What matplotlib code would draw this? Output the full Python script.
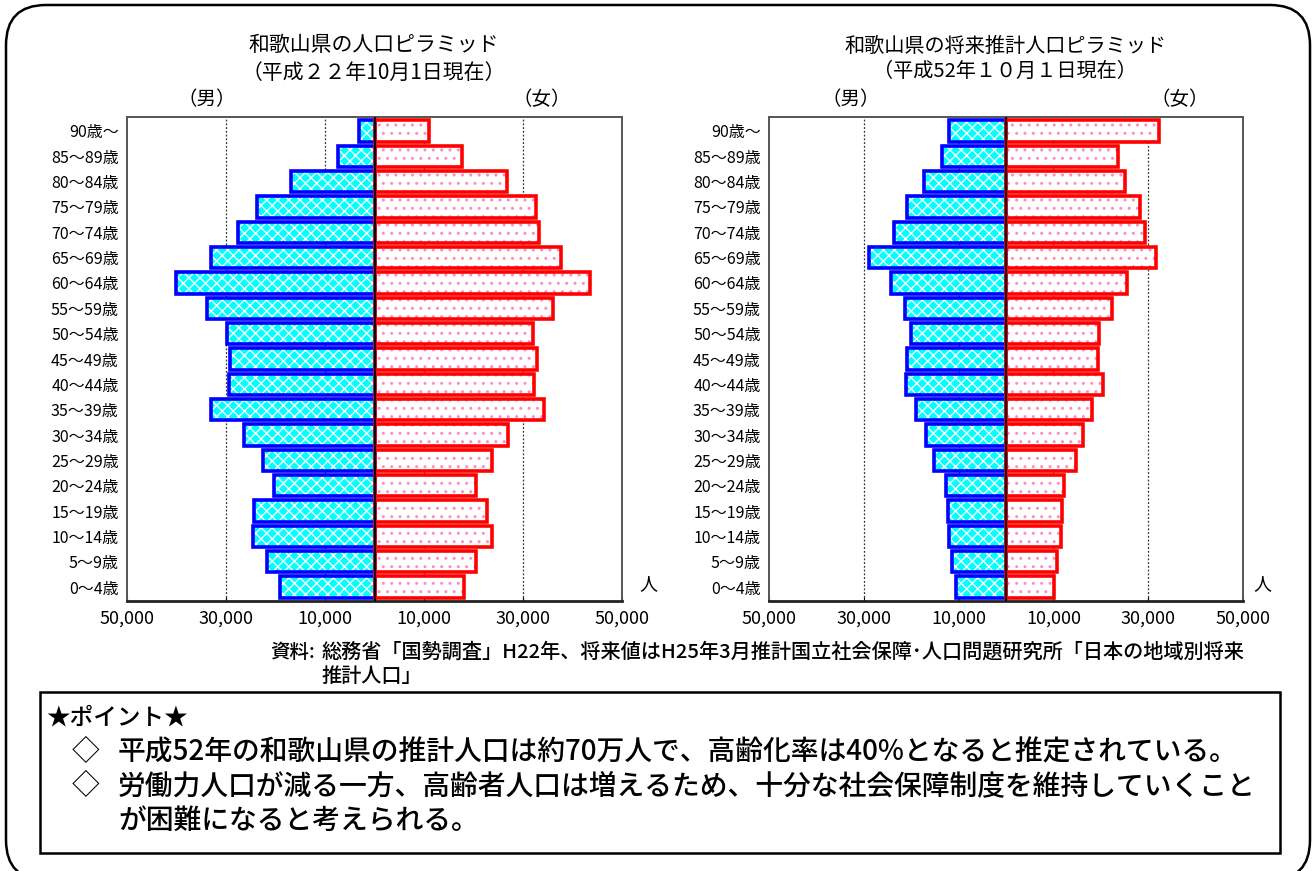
import matplotlib
matplotlib.use('Agg')
import matplotlib.pyplot as plt
from matplotlib.patches import FancyBboxPatch, Rectangle
import numpy as np

plt.rcParams['font.family'] = ['Noto Sans CJK JP', 'DejaVu Sans']
plt.rcParams['hatch.linewidth'] = 1.0

#%% data (people)

ages = ['0～4歳', '5～9歳', '10～14歳', '15～19歳', '20～24歳', '25～29歳',
        '30～34歳', '35～39歳', '40～44歳', '45～49歳', '50～54歳', '55～59歳',
        '60～64歳', '65～69歳', '70～74歳', '75～79歳', '80～84歳', '85～89歳',
        '90歳～']

# H22 (2010)
male_h22 = [19000, 21700, 24500, 24300, 20300, 22500, 26400, 33000, 29300,
            29200, 29700, 33800, 40100, 33000, 27600, 23700, 16900, 7300, 3100]
female_h22 = [18100, 20500, 23700, 22700, 20600, 23700, 27000, 34200, 32200,
              32800, 32000, 36100, 43600, 37700, 33300, 32600, 26700, 17600, 11000]

# H52 (2040) projection
male_h52 = [10600, 11400, 12100, 12300, 12600, 15200, 16800, 19000, 21100,
            20800, 20100, 21400, 24200, 28800, 23700, 20800, 17300, 13500, 12100]
female_h52 = [10200, 10800, 11700, 11900, 12300, 14700, 16200, 18100, 20400,
              19400, 19700, 22300, 25500, 31700, 29400, 28300, 25000, 23600, 32300]

xticks = [-50000, -30000, -10000, 10000, 30000, 50000]
xlabels = ['50,000', '30,000', '10,000', '10,000', '30,000', '50,000']

titles = ['和歌山県の人口ピラミッド\n（平成２２年10月1日現在）',
          '和歌山県の将来推計人口ピラミッド\n（平成52年１０月１日現在）']

source_head = '資料:'
source1 = '総務省「国勢調査」H22年、将来値はH25年3月推計国立社会保障･人口問題研究所「日本の地域別将来'
source2 = '推計人口」'

points = [('◇', '平成52年の和歌山県の推計人口は約70万人で、高齢化率は40%となると推定されている。'),
          ('◇', '労働力人口が減る一方、高齢者人口は増えるため、十分な社会保障制度を維持していくこと'),
          ('', 'が困難になると考えられる。')]

#%% figure

W, H = 1316, 871
fig = plt.figure(figsize=(W / 100, H / 100), dpi=100)

# background layer in pixel coords
bg = fig.add_axes([0, 0, 1, 1])
bg.set_xlim(0, W)
bg.set_ylim(H, 0)
bg.axis('off')

bg.add_patch(FancyBboxPatch((6, 5), W - 12, 875, boxstyle='round,pad=0,rounding_size=40',
                            fc='white', ec='black', lw=1.8, clip_on=False))
bg.add_patch(Rectangle((40, 692), 1240, 161, fc='white', ec='black', lw=1.8))


def pyramid(rect, male, female, title, xc, mx, fx, tsize):
    ax = fig.add_axes(rect)
    y = np.arange(len(ages))
    # fills
    ax.barh(y, -np.array(male), height=0.84, color='#00ffff', edgecolor='white',
            hatch='xxx', lw=0, zorder=2)
    ax.barh(y, female, height=0.84, color='white', edgecolor='#ff8cc8',
            hatch='..', lw=0, zorder=2)
    # outlines
    ax.barh(y, -np.array(male), height=0.84, fill=False, edgecolor='#0000ff', lw=2.6, zorder=3)
    ax.barh(y, female, height=0.84, fill=False, edgecolor='#ff0000', lw=2.6, zorder=3)
    ax.axvline(0, color='black', lw=1.3, zorder=4)

    ax.set_xlim(-50000, 50000)
    ax.set_ylim(-0.55, len(ages) - 0.45)
    ax.set_xticks(xticks)
    ax.set_xticklabels(xlabels, fontsize=13)
    ax.set_yticks(y)
    ax.set_yticklabels(ages, fontsize=11.5)
    ax.tick_params(axis='y', length=0, pad=6)
    ax.tick_params(axis='x', direction='in', length=3, pad=6)
    for v in xticks[1:-1]:
        ax.axvline(v, color='#333333', lw=0.9, ls=(0, (1.5, 1.5)), zorder=1)
    for s in ax.spines.values():
        s.set_color('#555555')
        s.set_linewidth(1.4)
    ax.spines['bottom'].set_color('#222222')
    ax.spines['bottom'].set_linewidth(2)

    bg.text(xc, 59, title, ha='center', va='center', fontsize=tsize, linespacing=1.3)
    bg.text(mx, 100, '（男）', ha='center', va='center', fontsize=14)
    bg.text(fx, 100, '（女）', ha='center', va='center', fontsize=14)
    return ax


pyramid([127 / W, (H - 601) / H, 495 / W, 484 / H], male_h22, female_h22, titles[0],
        374, 207, 542, 15)
pyramid([769 / W, (H - 601) / H, 474 / W, 484 / H], male_h52, female_h52, titles[1],
        1005, 851, 1180, 14.5)

bg.text(648, 584, '人', ha='center', va='center', fontsize=13)
bg.text(1262, 584, '人', ha='center', va='center', fontsize=13)

bg.text(270, 652, source_head, ha='left', va='center', fontsize=14, fontweight='medium')
bg.text(322, 652, source1, ha='left', va='center', fontsize=14.5, fontweight='medium')
bg.text(322, 676, source2, ha='left', va='center', fontsize=14.5, fontweight='medium')

bg.text(46, 718, '★ポイント★', ha='left', va='center', fontsize=17, fontweight='medium')
for i, (mark, line) in enumerate(points):
    yy = 752 + 34 * i
    if mark:
        bg.text(72, yy, mark, ha='left', va='center', fontsize=20)
    bg.text(118, yy, line, ha='left', va='center', fontsize=20, fontweight='medium')

fig.savefig('out.png', dpi=100)
